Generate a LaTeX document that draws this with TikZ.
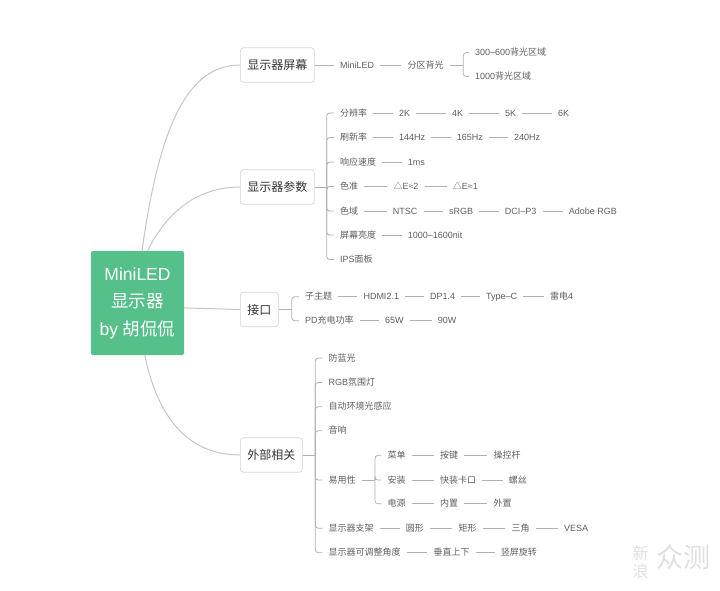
\documentclass[tikz,border=0pt]{standalone}
\usepackage{fontspec}
\setmainfont{Liberation Sans}
\newfontfamily\cjk{Noto Sans CJK SC}
\newcommand{\zh}[1]{{\cjk #1}}
\definecolor{rootgreen}{HTML}{55C08A}
\definecolor{linegray}{HTML}{B0B0B0}
\definecolor{curvegray}{HTML}{C6C6C6}
\definecolor{boxgray}{HTML}{D4D4D4}
\definecolor{leafgray}{HTML}{5F5F5F}
\tikzset{
	rootbox/.style={fill=rootgreen, text=white, rounded corners=2, minimum width=93, minimum height=104, inner sep=0, align=center, font=\fontsize{17.5}{27.5}\selectfont},
	mainbox/.style={draw=boxgray, line width=0.7, rounded corners=3, anchor=west, inner xsep=7, inner ysep=0, minimum height=34.5, text=black!80, font=\fontsize{12}{14}\selectfont},
	leaf/.style={anchor=west, inner xsep=6, inner ysep=0, text height=7.5, text depth=1.5, text=leafgray, font=\fontsize{9}{11}\selectfont},
	conn/.style={draw=linegray, line width=0.8},
	curve/.style={draw=curvegray, line width=1},
	fork/.style={conn, rounded corners=3},
	stamp/.style={text=black!12, inner sep=0, align=center}
}
\begin{document}
\begin{tikzpicture}[x=1pt, y=-1pt]
	\useasboundingbox (0,0) rectangle (720,590);
	% Wurzel und Hauptzweige
	\node[rootbox] (root) at (137.5,303) {MiniLED\\\zh{显示器}\\by \zh{胡侃侃}};
	\node[mainbox] (screen) at (240,65) {\zh{显示器屏幕}};
	\node[mainbox] (param) at (240,187) {\zh{显示器参数}};
	\node[mainbox] (port) at (240,309.5) {\zh{接口}};
	\node[mainbox] (extra) at (240,455) {\zh{外部相关}};
	\draw[curve] (root.85) .. controls (160,120) and (190,65) .. (screen.west);
	\draw[curve] (root.79) .. controls (165,215) and (195,187) .. (param.west);
	\draw[curve] (root.-6) -- (port.west);
	\draw[curve] (root.-82) .. controls (158,420) and (190,455) .. (extra.west);
	% Bildschirm
	\node[leaf] (mini) at (334,65) {MiniLED};
	\node[leaf] (zone) at (401.3,65) {\zh{分区背光}};
	\node[leaf] (zonea) at (469,52.5) {300–600\zh{背光区域}};
	\node[leaf] (zoneb) at (469,76.5) {1000\zh{背光区域}};
	\coordinate (zonefork) at (463.3,65);
	% Parameter
	\node[leaf] (res) at (334,113) {\zh{分辨率}};
	\node[leaf] (res2) at (393,113) {2K};
	\node[leaf] (res4) at (446,113) {4K};
	\node[leaf] (res5) at (499,113) {5K};
	\node[leaf] (res6) at (552,113) {6K};
	\node[leaf] (rate) at (334,137.5) {\zh{刷新率}};
	\node[leaf] (rate144) at (393,137.5) {144Hz};
	\node[leaf] (rate165) at (450.7,137.5) {165Hz};
	\node[leaf] (rate240) at (508,137.5) {240Hz};
	\node[leaf] (resp) at (334,162) {\zh{响应速度}};
	\node[leaf] (resp1) at (401.7,162) {1ms};
	\node[leaf] (acc) at (334,186.5) {\zh{色准}};
	\node[leaf] (acc2) at (387.3,186.5) {\zh{△}E≈2};
	\node[leaf] (acc1) at (446.7,186.5) {\zh{△}E≈1};
	\node[leaf] (gam) at (334,211) {\zh{色域}};
	\node[leaf] (ntsc) at (386.7,211) {NTSC};
	\node[leaf] (srgb) at (443,211) {sRGB};
	\node[leaf] (dci) at (498.7,211) {DCI–P3};
	\node[leaf] (adobe) at (562.7,211) {Adobe RGB};
	\node[leaf] (lum) at (334,235) {\zh{屏幕亮度}};
	\node[leaf] (lumval) at (401.7,235) {1000–1600nit};
	\node[leaf] (ips) at (334,259.5) {IPS\zh{面板}};
	\coordinate (paramfork) at (326.7,187);
	% Anschluesse
	\node[leaf] (sub) at (299,296.7) {\zh{子主题}};
	\node[leaf] (hdmi) at (357.3,296.7) {HDMI2.1};
	\node[leaf] (dp) at (424,296.7) {DP1.4};
	\node[leaf] (typec) at (480,296.7) {Type–C};
	\node[leaf] (tb) at (544,296.7) {\zh{雷电}4};
	\node[leaf] (pd) at (299,320.7) {PD\zh{充电功率}};
	\node[leaf] (w65) at (379,320.7) {65W};
	\node[leaf] (w90) at (431.7,320.7) {90W};
	\coordinate (portfork) at (291.7,309.5);
	% Aeusseres
	\node[leaf] (blue) at (322.3,358) {\zh{防蓝光}};
	\node[leaf] (rgb) at (322.3,382.5) {RGB\zh{氛围灯}};
	\node[leaf] (auto) at (322.3,406.7) {\zh{自动环境光感应}};
	\node[leaf] (sound) at (322.3,430.7) {\zh{音响}};
	\node[leaf] (easy) at (322.3,480) {\zh{易用性}};
	\node[leaf] (menu) at (381.3,455.3) {\zh{菜单}};
	\node[leaf] (key) at (434,455.3) {\zh{按键}};
	\node[leaf] (stick) at (487.3,455.3) {\zh{操控杆}};
	\node[leaf] (mount) at (381.3,480) {\zh{安装}};
	\node[leaf] (clip) at (434,480) {\zh{快装卡口}};
	\node[leaf] (screw) at (502.7,480) {\zh{螺丝}};
	\node[leaf] (power) at (381.3,503.7) {\zh{电源}};
	\node[leaf] (inpow) at (434,503.7) {\zh{内置}};
	\node[leaf] (outpow) at (487.3,503.7) {\zh{外置}};
	\node[leaf] (stand) at (322.3,528.3) {\zh{显示器支架}};
	\node[leaf] (round) at (399.7,528.3) {\zh{圆形}};
	\node[leaf] (rect) at (452.3,528.3) {\zh{矩形}};
	\node[leaf] (tri) at (505.3,528.3) {\zh{三角}};
	\node[leaf] (vesa) at (558,528.3) {VESA};
	\node[leaf] (angle) at (322.3,552.7) {\zh{显示器可调整角度}};
	\node[leaf] (vert) at (427.3,552.7) {\zh{垂直上下}};
	\node[leaf] (pivot) at (494.7,552.7) {\zh{竖屏旋转}};
	\coordinate (extrafork) at (315.3,455);
	\coordinate (easyfork) at (375,480);
	% Linien
	\foreach \a/\b in {screen/mini,mini/zone,res/res2,res2/res4,res4/res5,res5/res6,rate/rate144,rate144/rate165,rate165/rate240,resp/resp1,acc/acc2,acc2/acc1,gam/ntsc,ntsc/srgb,srgb/dci,dci/adobe,lum/lumval,sub/hdmi,hdmi/dp,dp/typec,typec/tb,pd/w65,w65/w90,menu/key,key/stick,mount/clip,clip/screw,power/inpow,inpow/outpow,stand/round,round/rect,rect/tri,tri/vesa,angle/vert,vert/pivot,zone/zonefork,param/paramfork,port/portfork,extra/extrafork,easy/easyfork}
		\draw[conn] (\a.east) -- (\b);
	\foreach \c in {zonea,zoneb}
		\draw[fork] (zonefork) |- (\c.west);
	\foreach \c in {res,rate,resp,acc,gam,lum,ips}
		\draw[fork] (paramfork) |- (\c.west);
	\foreach \c in {sub,pd}
		\draw[fork] (portfork) |- (\c.west);
	\foreach \c in {blue,rgb,auto,sound,easy,stand,angle}
		\draw[fork] (extrafork) |- (\c.west);
	\foreach \c in {menu,mount,power}
		\draw[fork] (easyfork) |- (\c.west);
	% Stempel
	\node[stamp, font=\cjk\fontsize{16}{18}\selectfont] (stampa) at (640.5,562.5) {新\\浪};
	\node[stamp, font=\cjk\fontsize{27}{29}\selectfont] (stampb) at (683,557) {众测};
\end{tikzpicture}
\end{document}
